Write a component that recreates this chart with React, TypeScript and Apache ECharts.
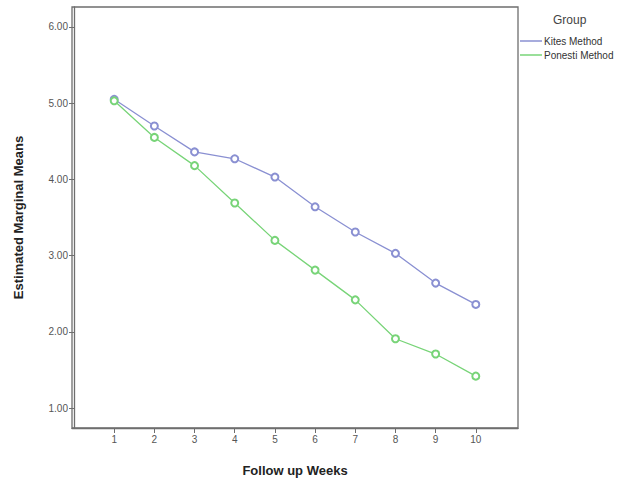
import React, { useEffect, useRef } from "react";
import * as echarts from "echarts";

const weeks = [1, 2, 3, 4, 5, 6, 7, 8, 9, 10];
const kites = [5.05, 4.7, 4.36, 4.27, 4.03, 3.64, 3.31, 3.03, 2.64, 2.36];
const ponesti = [5.03, 4.55, 4.18, 3.69, 3.2, 2.81, 2.42, 1.91, 1.71, 1.42];
const yTicks = [1, 2, 3, 4, 5, 6];
const seriesNames = ["Kites Method", "Ponesti Method"];
const colors = ["#8a90d2", "#78d478"];

export default function App() {
  const ref = useRef<HTMLDivElement>(null);
  useEffect(() => {
    if (!ref.current) return;
    const chart = echarts.init(ref.current, null, { renderer: "svg" });
    const font = "'Liberation Sans', Arial, sans-serif";
    chart.setOption({
      animation: false,
      backgroundColor: "#ffffff",
      textStyle: { fontFamily: font },
      grid: {
        left: 72,
        top: 7,
        width: 446,
        height: 425,
        show: true,
        borderColor: "#6e6e6e",
        borderWidth: 1.3,
        backgroundColor: "transparent",
      },
      graphic: [
        {
          type: "text",
          left: 553,
          top: 14,
          style: { text: "Group", fontSize: 12, fill: "#444", fontFamily: font },
        },
      ],
      legend: {
        orient: "vertical",
        left: 520,
        top: 35,
        padding: 0,
        itemWidth: 22,
        itemHeight: 1.5,
        itemGap: 2,
        icon: "rect",
        textStyle: { fontSize: 10, color: "#333", fontFamily: font, padding: [0, 0, 0, -3], lineHeight: 12 },
        data: seriesNames,
      },
      xAxis: {
        type: "value",
        min: -0.05,
        max: 11.05,
        name: "Follow up Weeks",
        nameLocation: "middle",
        nameGap: 36,
        nameTextStyle: { fontSize: 13, fontWeight: "bold", color: "#222", fontFamily: font },
        axisLine: { show: true, lineStyle: { color: "#6e6e6e", width: 1.3 } },
        axisTick: { show: true, length: 5, customValues: weeks, lineStyle: { color: "#6e6e6e" } },
        axisLabel: { customValues: weeks, fontSize: 10, color: "#555", margin: 6 },
        splitLine: { show: false },
      },
      yAxis: {
        type: "value",
        min: 0.74,
        max: 6.26,
        name: "Estimated Marginal Means",
        nameLocation: "middle",
        nameGap: 47,
        nameTextStyle: { fontSize: 13, fontWeight: "bold", color: "#222", fontFamily: font },
        axisLine: { show: true, lineStyle: { color: "#6e6e6e", width: 1.3 } },
        axisTick: { show: true, length: 5, customValues: yTicks, lineStyle: { color: "#6e6e6e" } },
        axisLabel: {
          customValues: yTicks,
          fontSize: 10,
          color: "#555",
          margin: 4,
          formatter: (v: number) => v.toFixed(2),
        },
        splitLine: { show: false },
      },
      series: [
        {
          name: seriesNames[0],
          type: "line",
          data: weeks.map((w, i) => [w, kites[i]]),
          symbol: "emptyCircle",
          symbolSize: 7,
          color: colors[0],
          lineStyle: { width: 1.3, color: colors[0] },
          itemStyle: { color: colors[0], borderWidth: 0.9 },
        },
        {
          name: seriesNames[1],
          type: "line",
          data: weeks.map((w, i) => [w, ponesti[i]]),
          symbol: "emptyCircle",
          symbolSize: 7,
          color: colors[1],
          lineStyle: { width: 1.3, color: colors[1] },
          itemStyle: { color: colors[1], borderWidth: 0.9 },
        },
      ],
    });
    return () => chart.dispose();
  }, []);
  return (
    <div
      ref={ref}
      style={{ position: "fixed", left: 0, top: 0, width: 639, height: 482 }}
    />
  );
}
